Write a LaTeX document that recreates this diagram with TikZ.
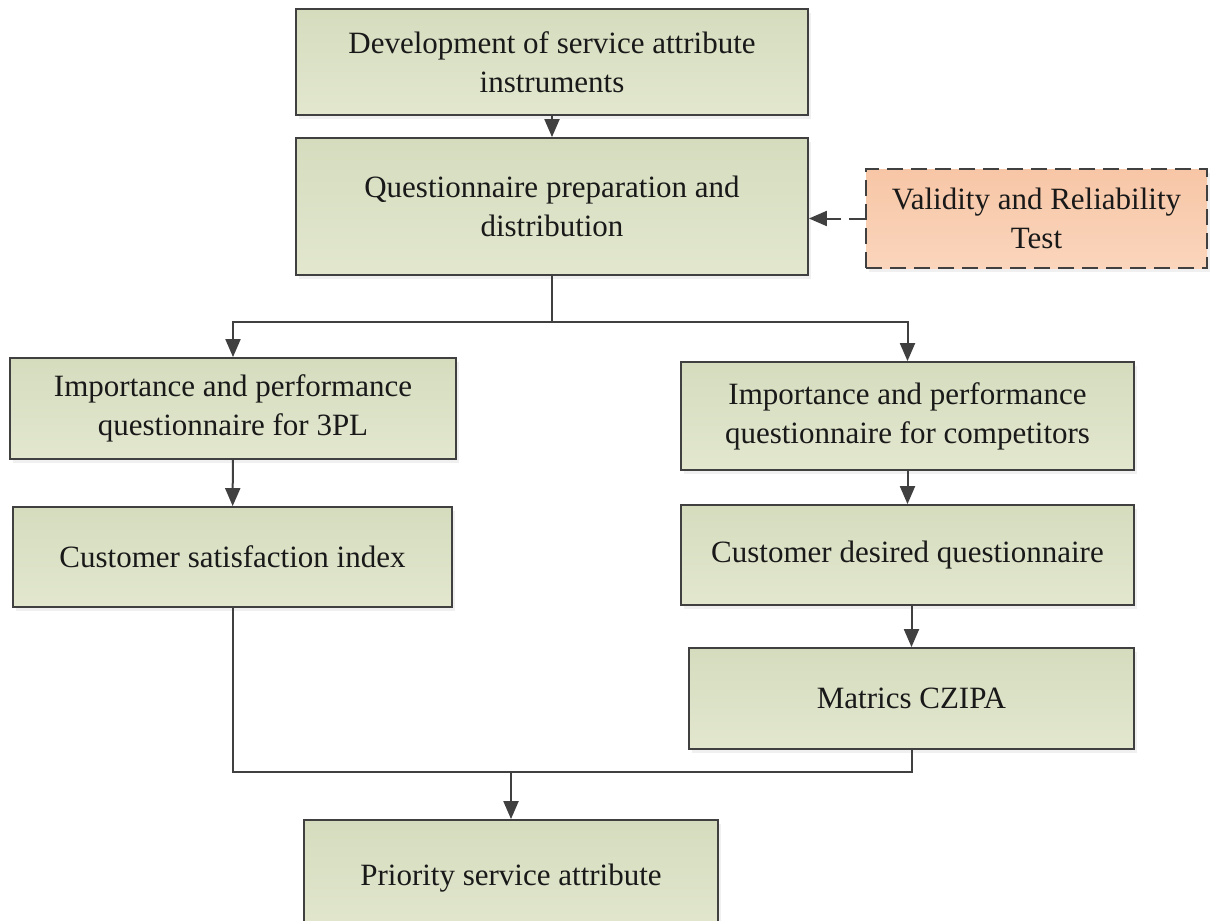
\documentclass[tikz,border=0pt]{standalone}
\usepackage{fontspec}
\setmainfont{Liberation Serif}
\usetikzlibrary{arrows.meta,shadows}
\definecolor{edgegray}{RGB}{64,64,64}
\definecolor{gtop}{RGB}{213,220,190}
\definecolor{gbot}{RGB}{226,231,206}
\definecolor{otop}{RGB}{247,198,166}
\definecolor{obot}{RGB}{250,213,188}
\definecolor{txt}{RGB}{25,25,25}
\tikzset{
  box/.style={draw=edgegray, line width=1.8pt, top color=gtop, bottom color=gbot,
    align=center, inner sep=0pt, text=txt, font=\fontsize{31}{39}\selectfont,
    drop shadow={opacity=0.12, shadow xshift=3pt, shadow yshift=-4pt}},
  obox/.style={box, top color=otop, bottom color=obot, dashed, dash pattern=on 16pt off 8pt},
  conn/.style={draw=edgegray, line width=2pt},
  arr/.style={conn, -{Triangle[length=18pt,width=15pt]}},
}
\begin{document}
\begin{tikzpicture}[x=1pt,y=-1pt]
\useasboundingbox (0,0) rectangle (1211,921);
\node[box, minimum width=512pt, minimum height=106pt] (b1) at (552,62) {Development of service attribute\\instruments};
\node[box, minimum width=512pt, minimum height=137pt] (b2) at (552,206.5) {Questionnaire preparation and\\distribution};
\node[obox, minimum width=341pt, minimum height=99pt] (vr) at (1036.5,218.5) {Validity and Reliability\\Test};
\node[box, minimum width=446pt, minimum height=101pt] (b3) at (233,408.5) {Importance and performance\\questionnaire for 3PL};
\node[box, minimum width=439pt, minimum height=100pt] (b4) at (232.5,557) {Customer satisfaction index};
\node[box, minimum width=453pt, minimum height=108pt] (b5) at (907.5,416) {Importance and performance\\questionnaire for competitors};
\node[box, minimum width=453pt, minimum height=100pt] (b6) at (907.5,555) {Customer desired questionnaire};
\node[box, minimum width=445pt, minimum height=101pt] (b7) at (911.5,698.5) {Matrics CZIPA};
\node[box, minimum width=414pt, minimum height=116pt] (b8) at (511,878) {\raisebox{4pt}{Priority service attribute}};
\coordinate (split) at (552,322);
\coordinate (join) at (511,772);
\draw[arr] (b1) -- (b2);
\draw[arr, dashed, dash pattern=on 16pt off 8pt] (vr.west) -- (vr.west -| b2.east);
\draw[conn] (b2.south) -- (split);
\draw[arr] (split) -| (b3.north);
\draw[arr] (split -| b3.north) -| (b5.north);
\draw[arr] (b3) -- (b4);
\draw[arr] (b5) -- (b6);
\draw[arr] (b6.south -| b7.north) -- (b7.north);
\draw[conn] (b4.south) |- (join) -| (b7.south);
\draw[arr] (join) -- (b8.north);
\end{tikzpicture}
\end{document}
